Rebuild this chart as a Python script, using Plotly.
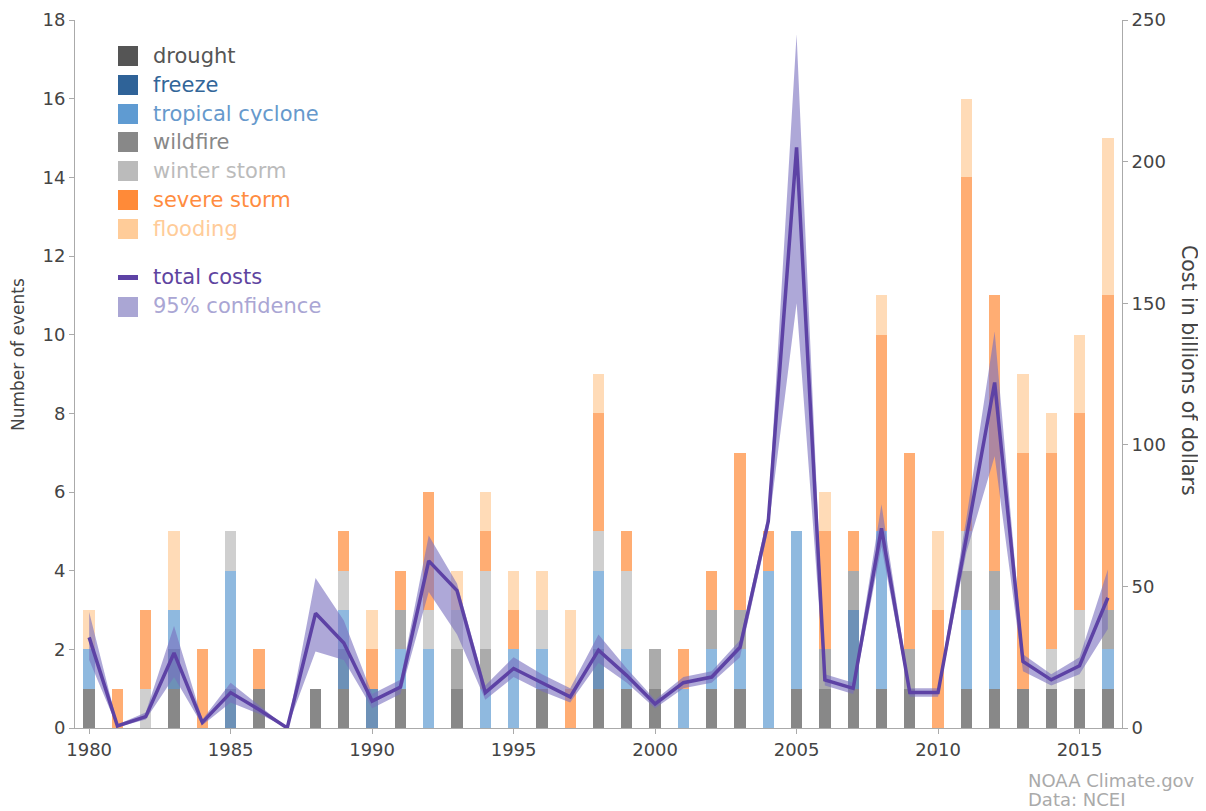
import plotly.graph_objects as go

years = list(range(1980, 2017))

# event counts per category (stack order bottom -> top)
drought = [1,0,0,1,0,0,1,0,1,1, 0,1,0,1,0,0,1,0,1,1, 1,0,1,1,0,1,1,1,1,1, 0,1,1,1,1,1,1]
freeze  = [0,0,0,1,0,1,0,0,0,1, 1,0,0,0,0,0,0,0,1,0, 0,0,0,0,0,0,0,2,0,0, 0,0,0,0,0,0,0]
tropical= [1,0,0,1,0,3,0,0,0,1, 0,1,2,0,1,2,1,0,2,1, 0,1,1,1,4,4,0,0,4,0, 0,2,2,0,0,0,1]
wildfire= [0,0,0,0,0,0,0,0,0,0, 0,1,0,1,1,0,0,0,0,0, 1,0,1,1,0,0,1,1,0,1, 0,1,1,0,0,0,1]
winter  = [0,0,1,0,0,1,0,0,0,1, 0,0,1,1,2,0,1,0,1,2, 0,0,0,0,0,0,0,0,0,0, 0,1,0,0,1,2,0]
severe  = [0,1,2,0,2,0,1,0,0,1, 1,1,3,0,1,1,0,1,3,1, 0,1,1,4,1,0,3,1,5,5, 3,9,7,6,5,5,8]
flooding= [1,0,0,2,0,0,0,0,0,0, 1,0,0,1,1,1,1,2,1,0, 0,0,0,0,0,0,1,0,1,0, 2,2,0,2,1,2,4]

# total costs (billions of dollars) and 95% confidence bounds
cost       = [32,0.7,4,26.5,2,12.5,6.5,0,40.5,30, 9.5,14.5,59,48.5,12.5,21,16,11,27.5,18.5,
              8.5,16,18,28.5,73,205,17,14,70.5,12.5, 12.5,68,122,23.5,17,22,46]
cost_low   = [24,0.3,3,18,1,9,5,0,27,24, 7,12,48,33,10,18,13,9,23,16,
              7,14,16,25,70,150,15,12,64,11, 11,62,96,20,15,19,35]
cost_high  = [41,1.2,5.5,36,3,16,8,0,53,38, 12,17,68,51,15,25,19,14,33,21,
              10,18,20,31,76,245,19,16,79,14, 14,74,140,26,19,25,56]

categories = ["drought","freeze","tropical cyclone","wildfire","winter storm","severe storm","flooding"]
series = [drought, freeze, tropical, wildfire, winter, severe, flooding]
colors = ["#555555","#2f6398","#5f9bd2","#888888","#bbbbbb","#ff8a38","#ffcc99"]
text_colors = ["#555555","#336699","#6699cc","#888888","#bbbbbb","#ff8c40","#ffcc99"]
line_color = "#5d42a5"
band_color = "rgba(120,110,190,0.6)"

FONT = "DejaVu Sans"

fig = go.Figure()
for name, vals, col in zip(categories, series, colors):
    fig.add_trace(go.Bar(x=years, y=vals, name=name, marker=dict(color=col, opacity=0.7, line=dict(width=0)),
                         showlegend=False, yaxis="y"))

fig.add_trace(go.Scatter(x=years, y=cost_high, mode="lines", line=dict(width=0, color=band_color),
                         showlegend=False, yaxis="y2", hoverinfo="skip"))
fig.add_trace(go.Scatter(x=years, y=cost_low, mode="lines", line=dict(width=0, color=band_color),
                         fill="tonexty", fillcolor=band_color, showlegend=False, yaxis="y2", hoverinfo="skip"))
fig.add_trace(go.Scatter(x=years, y=cost, mode="lines", line=dict(width=3.5, color=line_color),
                         showlegend=False, yaxis="y2", name="total costs"))

# page body has an 8px margin; figure is sized to fill the window after it
OFF = 8
FW, FH = 1206 - OFF, 811 - OFF
# plot area edges in window pixels
L, R, T, B = 75, 1122, 20, 728
W, H = R - L, B - T
def px(xp):
    return (xp - L) / W
def py(yp):
    return (B - yp) / H

shapes = []
annotations = []
LEG = 21
row_y = [56, 85, 114, 142, 171, 200, 229]
for name, col, tcol, yy in zip(categories, colors, text_colors, row_y):
    shapes.append(dict(type="rect", xref="paper", yref="paper", x0=px(118), x1=px(138),
                       y0=py(yy + 10), y1=py(yy - 10), fillcolor=col, line=dict(width=0)))
    annotations.append(dict(xref="paper", yref="paper", x=px(151), y=py(yy), text=name, showarrow=False,
                            xanchor="left", yanchor="middle", font=dict(family=FONT, size=LEG, color=tcol)))
# total costs legend
shapes.append(dict(type="rect", xref="paper", yref="paper", x0=px(118), x1=px(138),
                   y0=py(280), y1=py(275), fillcolor=line_color, line=dict(width=0)))
annotations.append(dict(xref="paper", yref="paper", x=px(151), y=py(277), text="total costs", showarrow=False,
                        xanchor="left", yanchor="middle", font=dict(family=FONT, size=LEG, color="#5e44a0")))
shapes.append(dict(type="rect", xref="paper", yref="paper", x0=px(118), x1=px(138),
                   y0=py(317), y1=py(297), fillcolor="#aaa6d4", line=dict(width=0)))
annotations.append(dict(xref="paper", yref="paper", x=px(151), y=py(306), text="95% confidence", showarrow=False,
                        xanchor="left", yanchor="middle", font=dict(family=FONT, size=LEG, color="#aaa6d4")))

# axis titles
annotations.append(dict(xref="paper", yref="paper", x=px(18), y=py(355), text="Number of events", showarrow=False,
                        textangle=-90, xanchor="center", yanchor="middle", font=dict(family=FONT, size=17, color="#444444")))
annotations.append(dict(xref="paper", yref="paper", x=px(1189), y=py(370), text="Cost in billions of dollars", showarrow=False,
                        textangle=90, xanchor="center", yanchor="middle", font=dict(family=FONT, size=20.5, color="#444444")))
# credits
annotations.append(dict(xref="paper", yref="paper", x=px(1026), y=py(780), text="NOAA Climate.gov", showarrow=False,
                        xanchor="left", yanchor="middle", font=dict(family=FONT, size=18, color="#aaaaaa")))
annotations.append(dict(xref="paper", yref="paper", x=px(1026), y=py(799), text="Data: NCEI", showarrow=False,
                        xanchor="left", yanchor="middle", font=dict(family=FONT, size=18, color="#aaaaaa")))

axis_common = dict(showgrid=False, zeroline=False, showline=True, linecolor="#aaaaaa", linewidth=1,
                   ticks="outside", ticklen=5, tickcolor="#aaaaaa", automargin=False,
                   tickfont=dict(family=FONT, size=18, color="#444444"))

fig.update_layout(
    width=FW, height=FH,
    margin=dict(l=L - OFF, r=FW - (R - OFF), t=T - OFF, b=FH - (B - OFF), autoexpand=False),
    paper_bgcolor="white", plot_bgcolor="white",
    barmode="stack", bargap=0.6,
    showlegend=False,
    xaxis=dict(range=[1979.5, 2016.5], tickvals=list(range(1980, 2016, 5)), **axis_common),
    yaxis=dict(range=[0, 18], dtick=2, **axis_common),
    yaxis2=dict(range=[0, 250], dtick=50, overlaying="y", side="right", **axis_common),
    shapes=shapes, annotations=annotations,
)

fig.write_html("out.html")
